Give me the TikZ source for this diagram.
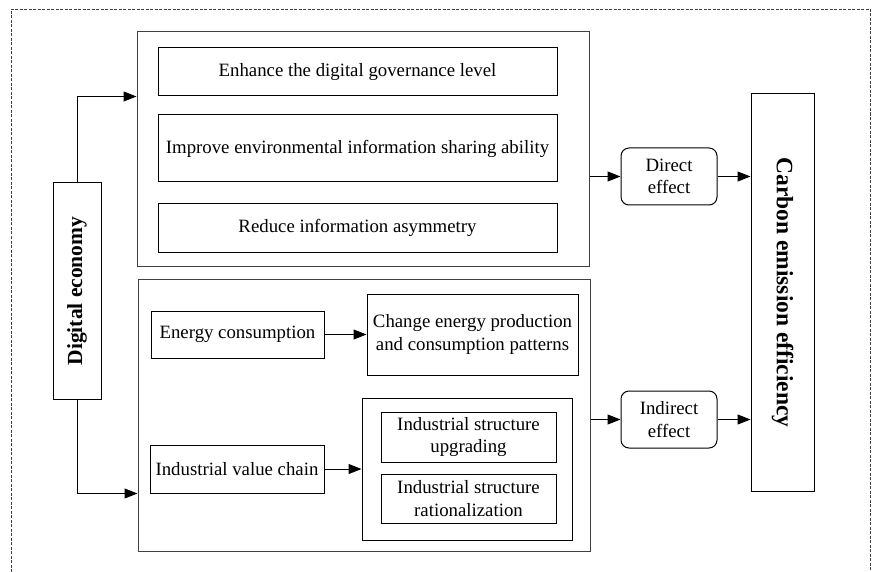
\documentclass[tikz,border=0pt]{standalone}
\usepackage{fontspec}
\setmainfont{Liberation Serif}
\usetikzlibrary{arrows.meta}
\begin{document}
\begin{tikzpicture}[x=1pt,y=-1pt,
  box/.style={draw=black,line width=1pt,inner sep=0pt,align=center,
    font=\fontsize{18.8}{22.5}\selectfont},
  big/.style={draw=black!75,line width=1pt,inner sep=0pt},
  eff/.style={box,rounded corners=8pt},
  vbox/.style={box},
  arr/.style={line width=1pt,-{Triangle[length=13pt,width=10pt]}}]
\useasboundingbox (0,0) rectangle (875,572);
\draw[line width=0.9pt,black!75,dash pattern=on 3pt off 1.5pt] (11,572) |- (870,9) -- (870,572);
% big containers
\node[big,minimum width=452pt,minimum height=234pt] (upper) at (363,149) {};
\node[big,minimum width=452pt,minimum height=272pt] (lower) at (364,415) {};
% upper inner boxes
\node[box,minimum width=399pt,minimum height=48pt] (b1) at (357.5,72) {Enhance the digital governance level};
\node[box,minimum width=399pt,minimum height=67pt] (b2) at (357.5,148.5) {Improve environmental information sharing ability};
\node[box,minimum width=399pt,minimum height=48pt] (b3) at (357.5,228) {Reduce information asymmetry};
% digital economy
\node[vbox,minimum width=48pt,minimum height=216pt] (de) at (77,291) {};
\node[font=\fontsize{21.5}{24}\selectfont\bfseries,rotate=90] (detext) at (de.center) {Digital economy};
% lower inner boxes
\node[box,minimum width=173pt,minimum height=47pt] (energy) at (237.5,334.5) {Energy consumption};
\node[box,minimum width=211pt,minimum height=81pt] (change) at (472.5,334.5) {Change energy production\\and consumption patterns};
\node[box,minimum width=174pt,minimum height=48pt] (vchain) at (237,469) {Industrial value chain};
\node[box,minimum width=210pt,minimum height=142pt] (struct) at (467,469) {};
\node[box,minimum width=175pt,minimum height=50pt] (upg) at (468.5,437) {Industrial structure\\upgrading};
\node[box,minimum width=175pt,minimum height=49pt] (rat) at (468.5,498.5) {Industrial structure\\rationalization};
% effects
\node[eff,minimum width=96pt,minimum height=57pt] (direct) at (669,176.5) {Direct\\effect};
\node[eff,minimum width=96pt,minimum height=57pt] (indirect) at (669,419.5) {Indirect\\effect};
% carbon
\node[vbox,minimum width=63pt,minimum height=397pt] (carbon) at (782.5,292.5) {};
\node[font=\fontsize{23.5}{26}\selectfont\bfseries,rotate=-90] (ctext) at (carbon.center) {Carbon emission efficiency};
% arrows
\draw[arr] (de.north) |- (upper.west |- b1.south);
\draw[arr] (de.south) |- (lower.west |- vchain.south);
\draw[arr] (upper.east |- direct.west) -- (direct.west);
\draw[arr] (direct.east) -- (carbon.west |- direct.east);
\draw[arr] (lower.east |- indirect.west) -- (indirect.west);
\draw[arr] (indirect.east) -- (carbon.west |- indirect.east);
\draw[arr] (energy.east) -- (change.west);
\draw[arr] (vchain.east) -- (struct.west |- vchain.east);
\end{tikzpicture}
\end{document}
